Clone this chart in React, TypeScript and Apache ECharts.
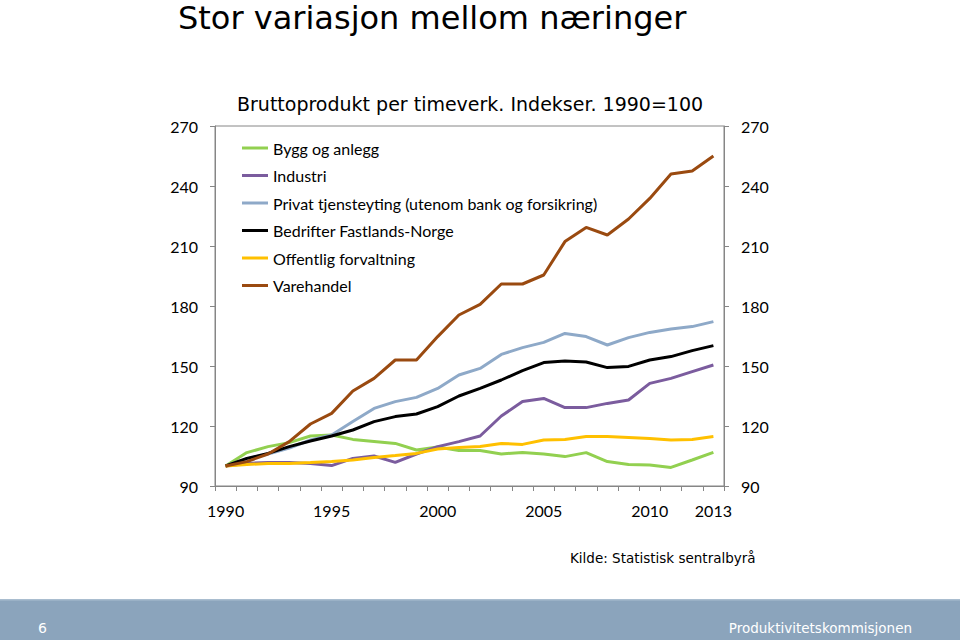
import React, { useEffect, useRef } from "react";
import * as echarts from "echarts";

const years = ["1990","1991","1992","1993","1994","1995","1996","1997","1998","1999","2000","2001","2002","2003","2004","2005","2006","2007","2008","2009","2010","2011","2012","2013"];
const labelYears = ["1990","1995","2000","2005","2010","2013"];

const byggOgAnlegg = [100,106.7,109.7,111.7,115,115.5,113.3,112.3,111.3,108,109.5,107.7,107.7,106,106.8,106,104.7,106.7,102.2,100.8,100.5,99.3,103,106.8];
const industri = [100,101.3,101.8,101.7,101.3,100.2,103.8,105,101.8,106,109.7,112.2,115,125,132.2,133.8,129.2,129.2,131.3,133,141.3,143.8,147.2,150.5];
const privatTjenesteyting = [100,103.5,106,109,113,115.5,122.2,128.8,132.2,134.3,138.8,145.5,148.8,155.8,159.2,161.8,166.3,164.7,160.5,164.2,166.8,168.5,169.7,172.2];
const bedrifterFastland = [100,103.8,106.3,109.7,112.5,115,118,122.2,124.7,126,129.7,135,138.8,143,147.7,151.7,152.5,152,149.2,149.8,153,154.7,157.7,160.2];
const offentligForvaltning = [100,100.7,101.3,101.3,101.7,102.2,103,104.2,105.2,106.3,108.5,109.2,109.7,111.3,110.8,113,113.3,114.7,114.7,114.3,113.8,113,113.3,114.7];
const varehandel = [100,102.2,106,112.2,121,126.3,137.5,143.8,153,153,164.7,175.5,180.8,191,191,195.5,212.2,219.3,215.5,223.5,233.8,246,247.5,255];

const seriesNames = ["Bygg og anlegg","Industri","Privat tjensteyting (utenom bank og forsikring)","Bedrifter Fastlands-Norge","Offentlig forvaltning","Varehandel"];
const seriesColors = ["#92D050","#7B5C9E","#8EA9C8","#000000","#FFC000","#9A4A10"];
const seriesData = [byggOgAnlegg, industri, privatTjenesteyting, bedrifterFastland, offentligForvaltning, varehandel];

const title = "Stor variasjon mellom næringer";
const subtitle = "Bruttoprodukt per timeverk. Indekser. 1990=100";
const source = "Kilde: Statistisk sentralbyrå";
const pageNumber = "6";
const footerName = "Produktivitetskommisjonen";

const AX = "#868686";
const FONT = "DejaVu Sans";
const LFONT = "Lato";

export default function App() {
  const ref = useRef<HTMLDivElement>(null);
  useEffect(() => {
    if (!ref.current) return;
    const chart = echarts.init(ref.current, undefined, { renderer: "svg" });
    const yAxisBase = {
      type: "value" as const,
      min: 90,
      max: 270,
      interval: 30,
      splitLine: { show: false },
      axisLine: { show: true, lineStyle: { color: AX, width: 1 } },
      axisTick: { show: true, length: 5, lineStyle: { color: AX } },
      axisLabel: { color: "#000", fontFamily: LFONT, fontSize: 16, margin: 17 },
    };
    chart.setOption({
      animation: false,
      backgroundColor: "#ffffff",
      grid: { left: 215, right: 236, top: 126, bottom: 154, show: true, borderColor: AX, borderWidth: 1, containLabel: false },
      legend: {
        orient: "vertical",
        left: 237,
        top: 134,
        icon: "rect",
        itemWidth: 26,
        itemHeight: 3,
        itemGap: 9.5,
        selectedMode: false,
        textStyle: { fontFamily: LFONT, fontSize: 16, color: "#000", lineHeight: 18 },
        data: seriesNames,
      },
      xAxis: {
        type: "category",
        data: years,
        boundaryGap: true,
        axisLine: { show: true, lineStyle: { color: AX } },
        axisTick: { show: true, interval: 0, length: 5, alignWithLabel: false, lineStyle: { color: AX } },
        axisLabel: {
          interval: (idx: number, val: string) => labelYears.includes(val),
          color: "#000",
          fontFamily: LFONT,
          fontSize: 16,
          margin: 16,
        },
        splitLine: { show: false },
      },
      yAxis: [
        { ...yAxisBase, position: "left" },
        { ...yAxisBase, position: "right" },
      ],
      series: seriesNames.map((name, i) => ({
        name,
        type: "line",
        data: seriesData[i],
        yAxisIndex: 0,
        symbol: "none",
        showSymbol: false,
        lineStyle: { color: seriesColors[i], width: 3 },
        itemStyle: { color: seriesColors[i] },
        emphasis: { disabled: true },
      })),
      graphic: [
        { type: "text", left: 178, top: 1, style: { text: title, fontFamily: FONT, fontSize: 32, lineHeight: 34, fill: "#000" } },
        { type: "text", left: 237, top: 94, style: { text: subtitle, fontFamily: FONT, fontSize: 19, fill: "#000" } },
        { type: "text", left: 570, top: 551, style: { text: source, fontFamily: FONT, fontSize: 13.5, fill: "#000" } },
        { type: "rect", left: 0, top: 599, shape: { width: 960, height: 41 }, style: { fill: "#8BA4BC" } },
        { type: "rect", left: 0, top: 599, shape: { width: 960, height: 1.5 }, style: { fill: "#A9BDCF" } },
        { type: "text", left: 38, top: 621, style: { text: pageNumber, fontFamily: FONT, fontSize: 14, fill: "#ffffff" } },
        { type: "text", right: 48, top: 621, style: { text: footerName, fontFamily: FONT, fontSize: 13.5, fill: "#ffffff" } },
      ],
    });
    return () => chart.dispose();
  }, []);
  return <div ref={ref} style={{ width: 960, height: 640, position: "absolute", left: 0, top: 0 }} />;
}
